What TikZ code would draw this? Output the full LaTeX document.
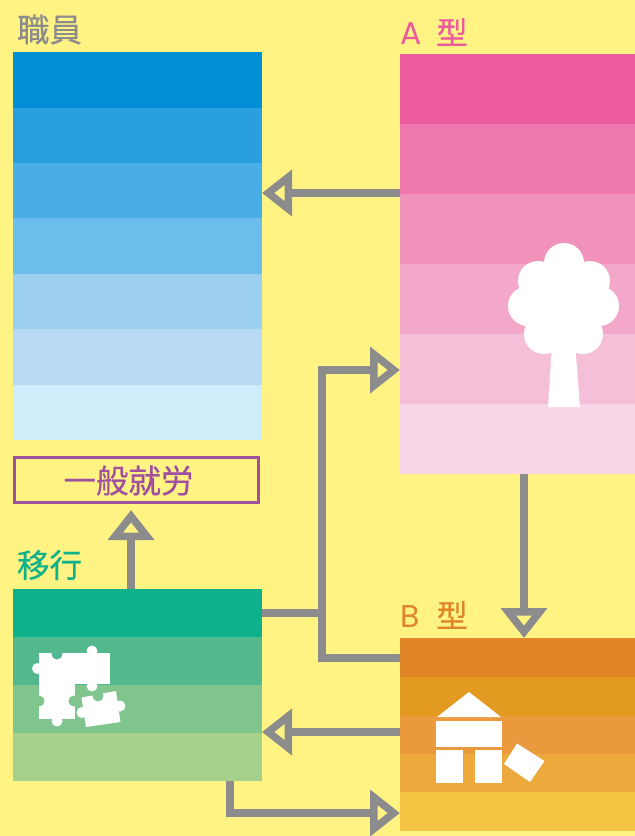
\documentclass[tikz,border=0pt]{standalone}
\usepackage{fontspec}
\setmainfont[FakeBold=0.35]{Noto Sans CJK JP}
\newfontfamily\latinface{Poppins}
\usetikzlibrary{arrows.meta}
\definecolor{bgy}{HTML}{FFF384}
\definecolor{arrowgrey}{HTML}{8C8C8C}
\definecolor{jobpurple}{HTML}{A0509F}
\definecolor{labelpink}{HTML}{EC5B9D}
\definecolor{labelorange}{HTML}{E08628}
\definecolor{labelteal}{HTML}{0DB28A}
\tikzset{
  x=1pt,y=-1pt,
  blockbox/.style={inner sep=0pt,outer sep=0pt,anchor=north west},
  labeltext/.style={inner sep=0pt,outer sep=0pt,anchor=west,font=\fontsize{31.5}{31.5}\selectfont},
  connector/.style={draw=arrowgrey,line width=7.5pt},
  flow/.style={connector,-{Triangle[open,length=30pt,width=45pt,line width=8pt,sep=0pt]}},
  icon/.style={fill=white,draw=none},
}
\newcommand{\bandrect}[6]{%
  \definecolor{c#1}{HTML}{#6}%
  \node[blockbox,fill=c#1,minimum width={(#4-#2)*1pt},minimum height={(#5-#3)*1pt}] (#1) at (#2,#3) {};}
\begin{document}
\begin{tikzpicture}
\useasboundingbox (0,0) rectangle (635,836);
\fill[bgy] (0,0) rectangle (635,836);

% staff
\bandrect{sa}{13}{52}{262}{108}{008FD5}
\bandrect{sb}{13}{108}{262}{163}{2A9FDD}
\bandrect{sc}{13}{163}{262}{218}{48AEE5}
\bandrect{sd}{13}{218}{262}{274}{6BBDEC}
\bandrect{se}{13}{274}{262}{329}{9CCEF0}
\bandrect{sf}{13}{329}{262}{385}{B8D9F3}
\bandrect{sg}{13}{385}{262}{440}{CFECFB}
% type A
\bandrect{aa}{400}{54}{635}{124}{EC5B9D}
\bandrect{ab}{400}{124}{635}{194}{EE77AB}
\bandrect{ac}{400}{194}{635}{264}{F092BA}
\bandrect{ad}{400}{264}{635}{334}{F3A8C9}
\bandrect{ae}{400}{334}{635}{404}{F6BFD8}
\bandrect{af}{400}{404}{635}{474}{F8D5E7}
% transition
\bandrect{ta}{13}{589}{262}{637}{0DB28A}
\bandrect{tb}{13}{637}{262}{685}{53B88E}
\bandrect{tc}{13}{685}{262}{733}{80C58D}
\bandrect{td}{13}{733}{262}{781}{A5D18D}
% type B
\bandrect{ba}{400}{638}{635}{677}{E08628}
\bandrect{bb}{400}{677}{635}{716}{E39A20}
\bandrect{bc}{400}{716}{635}{754}{EA9A3C}
\bandrect{bd}{400}{754}{635}{792}{EEA93C}
\bandrect{be}{400}{792}{635}{831}{F3C441}

% whole-block nodes used by the connectors
\node[blockbox,minimum width=249pt,minimum height=388pt] (staff) at (13,52) {};
\node[blockbox,minimum width=235pt,minimum height=420pt] (typeA) at (400,54) {};
\node[blockbox,minimum width=249pt,minimum height=192pt] (trans) at (13,589) {};
\node[blockbox,minimum width=235pt,minimum height=193pt] (typeB) at (400,638) {};
\node[blockbox,draw=jobpurple,line width=3pt,minimum width=244pt,minimum height=45pt] (job) at (14.5,457.5) {};
\node[inner sep=0pt,font=\fontsize{32.5}{32.5}\selectfont,text=jobpurple] (jobtext) at (128.5,480.5) {一般就労};

% labels
\node[labeltext,text=arrowgrey,font=\fontsize{32.5}{32.5}\selectfont] (lstaff) at (17,29.5) {職員};
\node[labeltext,text=labelpink] (la) at (400,32) {{\latinface A}\hspace{15pt}型};
\node[labeltext,text=labelteal,font=\fontsize{32.5}{32.5}\selectfont] (ltrans) at (17,565) {移行};
\node[labeltext,text=labelorange] (lb) at (400,615) {{\latinface B}\hspace{17pt}型};

% connectors
\coordinate (pAleft) at (typeA.west |- 0,193);
\coordinate (pStaff) at (staff.east |- 0,193);
\draw[flow] (pAleft) -- (pStaff);

\coordinate (pBup) at (typeB.west |- 0,658);
\coordinate (pAin) at (typeA.west |- 0,370);
\draw[flow] (pBup) -- (322,658) -- (322,370) -- (pAin);
\coordinate (pTr) at (trans.east |- 0,613);
\coordinate (pJoin) at (322,613);
\draw[connector] (pTr) -- (pJoin);

\coordinate (pAdown) at (typeA.south -| 524,0);
\coordinate (pBin) at (typeB.north -| 524,0);
\draw[flow] (pAdown) -- (pBin);

\coordinate (pBleft) at (typeB.west |- 0,732);
\coordinate (pTin) at (trans.east |- 0,732);
\draw[flow] (pBleft) -- (pTin);

\coordinate (pTd) at (trans.south -| 230,0);
\coordinate (pBbot) at (typeB.west |- 0,813);
\draw[flow] (pTd) -- (230,813) -- (pBbot);

\coordinate (pTup) at (trans.north -| 131,0);
\coordinate (pJob) at (131,510);
\draw[flow] (pTup) -- (pJob);

% tree
\fill[icon] (564,263) circle (20) (538,281) circle (20) (590,281) circle (20)
  (528,306) circle (20) (599,306) circle (20) (544,334) circle (20) (583,334) circle (20);
\fill[icon] (536,270) rectangle (592,340);
\fill[icon] (553,330) -- (574,330) -- (580,407) -- (548,407) -- cycle;

% blocks
\fill[icon] (469,692) -- (501,717) -- (437,717) -- cycle;
\fill[icon] (436,721) rectangle (502,747);
\fill[icon] (436,750) rectangle (463,783);
\fill[icon] (475,750) rectangle (502,783);
\fill[icon] (517,743.5) -- (544.5,761) -- (530,782) -- (504,764) -- cycle;

% puzzle
\fill[icon] (39,653) rectangle (74.6,719);
\fill[icon] (75,653) rectangle (110,684);
\fill[icon] (37.5,668.5) circle (5.5) (76,668.5) circle (5.5) (92,651) circle (5.5)
  (92,686) circle (5.5) (57,721) circle (5.5);
\fill[ctb] (57,654) circle (5.5);
\fill[ctc] (39,701) circle (5.5);
\fill[ctc] (74,701) circle (5.5);
\fill[icon] (81.5,697.5) -- (116,691) -- (120.5,722) -- (86,727) -- cycle;
\fill[icon] (82,712.5) circle (5.5) (120,706) circle (5.5);
\fill[ctc] (98,696) circle (5.5);
\end{tikzpicture}
\end{document}
